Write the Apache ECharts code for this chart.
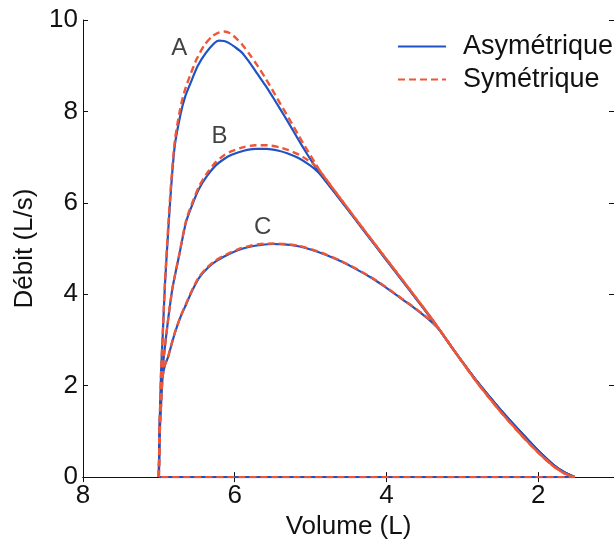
<!DOCTYPE html>
<html>
<head>
<meta charset="utf-8">
<script src="https://cdn.jsdelivr.net/npm/echarts@6/dist/echarts.min.js"></script>
<style>
html,body{margin:0;padding:0;background:#fff;}
#chart{width:614px;height:545px;}
</style>
</head>
<body>
<div id="chart"></div>
<script>
// ---- Data (volume in L, flow in L/s) ----
const volA_asym = [7.00, 6.99, 6.97, 6.95, 6.92, 6.88, 6.84, 6.79, 6.71, 6.65, 6.58, 6.49, 6.38, 6.27, 6.21, 6.14, 6.08, 5.99, 5.90, 5.80, 5.70, 5.60, 5.50, 5.40, 5.29, 5.16, 5.05, 4.95, 4.86, 4.60, 4.30, 4.00, 3.70, 3.40, 3.10, 2.80, 2.50, 2.20, 2.00, 1.80, 1.65, 1.52, 7.00];
const flowA_asym = [0, 1.10, 2.34, 3.06, 4.20, 5.30, 6.30, 7.25, 7.97, 8.34, 8.63, 8.99, 9.28, 9.49, 9.55, 9.54, 9.50, 9.40, 9.28, 9.06, 8.82, 8.58, 8.32, 8.05, 7.75, 7.38, 7.08, 6.82, 6.60, 6.05, 5.40, 4.75, 4.10, 3.45, 2.75, 2.08, 1.48, 0.93, 0.58, 0.27, 0.10, 0, 0];

const volA_sym = [7.00, 6.99, 6.97, 6.95, 6.92, 6.88, 6.84, 6.79, 6.72, 6.66, 6.59, 6.50, 6.40, 6.30, 6.22, 6.14, 6.06, 5.98, 5.90, 5.80, 5.70, 5.60, 5.50, 5.40, 5.29, 5.16, 5.05, 4.95, 4.86, 4.60, 4.30, 4.00, 3.70, 3.40, 3.10, 2.80, 2.50, 2.20, 2.00, 1.80, 1.65, 1.52, 7.00];
const flowA_sym = [0, 1.10, 2.34, 3.10, 4.25, 5.40, 6.40, 7.35, 8.05, 8.45, 8.78, 9.15, 9.45, 9.64, 9.72, 9.75, 9.71, 9.60, 9.46, 9.24, 9.00, 8.74, 8.46, 8.17, 7.86, 7.48, 7.17, 6.90, 6.66, 6.08, 5.42, 4.77, 4.12, 3.46, 2.75, 2.06, 1.44, 0.88, 0.54, 0.24, 0.08, 0, 0];

const volB = [7.00, 6.99, 6.97, 6.95, 6.93, 6.88, 6.82, 6.73, 6.64, 6.55, 6.47, 6.36, 6.25, 6.14, 6.04, 5.88, 5.73, 5.58, 5.42, 5.30, 5.16, 5.05, 4.95, 4.86, 4.60, 4.30, 4.00, 3.70, 3.40, 3.10, 2.80, 2.50, 2.20, 2.00, 1.80, 1.65, 1.52];
const flowB_asym = [0, 1.10, 1.90, 2.35, 2.70, 3.42, 4.14, 4.87, 5.59, 6.00, 6.31, 6.60, 6.82, 6.96, 7.05, 7.14, 7.18, 7.18, 7.14, 7.08, 6.98, 6.87, 6.75, 6.60, 6.05, 5.40, 4.75, 4.10, 3.45, 2.75, 2.08, 1.48, 0.93, 0.58, 0.27, 0.10, 0];
const flowB_sym = [0, 1.10, 1.90, 2.35, 2.70, 3.42, 4.14, 4.88, 5.62, 6.04, 6.36, 6.66, 6.89, 7.04, 7.13, 7.22, 7.26, 7.26, 7.22, 7.16, 7.06, 6.95, 6.83, 6.66, 6.08, 5.42, 4.77, 4.12, 3.46, 2.75, 2.06, 1.44, 0.88, 0.54, 0.24, 0.08, 0];

const volC = [7.00, 6.99, 6.97, 6.95, 6.92, 6.88, 6.83, 6.78, 6.71, 6.64, 6.56, 6.47, 6.36, 6.25, 6.10, 5.95, 5.80, 5.65, 5.50, 5.35, 5.16, 5.00, 4.81, 4.60, 4.40, 4.20, 4.00, 3.80, 3.60, 3.45, 3.30, 3.10, 2.80, 2.50, 2.20, 2.00, 1.80, 1.65, 1.52];
const flowC_asym = [0, 0.90, 1.60, 2.19, 2.45, 2.62, 2.92, 3.20, 3.52, 3.78, 4.08, 4.36, 4.57, 4.72, 4.86, 4.97, 5.04, 5.08, 5.10, 5.09, 5.05, 4.98, 4.87, 4.72, 4.55, 4.36, 4.14, 3.90, 3.66, 3.46, 3.22, 2.75, 2.08, 1.48, 0.93, 0.58, 0.27, 0.10, 0];
const flowC_sym = [0, 0.90, 1.60, 2.19, 2.45, 2.63, 2.93, 3.21, 3.53, 3.80, 4.10, 4.38, 4.59, 4.74, 4.88, 4.99, 5.06, 5.10, 5.11, 5.10, 5.06, 4.99, 4.88, 4.73, 4.56, 4.37, 4.15, 3.91, 3.67, 3.47, 3.22, 2.75, 2.06, 1.44, 0.88, 0.54, 0.24, 0.08, 0];

const curveLabels = ['A', 'B', 'C'];
const labelVol = [6.73, 6.20, 5.63];
const labelFlow = [9.39, 7.46, 5.47];

const xTicks = [2, 4, 6, 8];
const seriesNames = ['Asymétrique', 'Symétrique'];

// ---- Chart ----
const FONT = "'Liberation Sans', Arial, sans-serif";
const BLUE = '#1f52c4';
const RED = '#ee5736';
const zip = (xs, ys) => xs.map((x, i) => [x, ys[i]]);

function blueSeries(xs, ys) {
  return { name: seriesNames[0], type: 'line', data: zip(xs, ys), symbol: 'none', showSymbol: false, smooth: 0.25,
    lineStyle: { color: BLUE, width: 2.2, type: 'solid' }, itemStyle: { color: BLUE }, z: 2, animation: false };
}
function redSeries(xs, ys) {
  return { name: seriesNames[1], type: 'line', data: zip(xs, ys), symbol: 'none', showSymbol: false, smooth: 0.25,
    lineStyle: { color: RED, width: 2.4, type: [7, 4] }, itemStyle: { color: RED }, z: 3, animation: false };
}

const axisLineStyle = { lineStyle: { color: '#111', width: 1 } };
const chart = echarts.init(document.getElementById('chart'));
chart.setOption({
  backgroundColor: '#fff',
  animation: false,
  textStyle: { fontFamily: FONT },
  grid: { left: 83, top: 20, width: 537, height: 461, containLabel: false },
  legend: {
    data: seriesNames,
    orient: 'vertical',
    left: 397, top: 33, padding: 0,
    itemWidth: 48, itemHeight: 14, itemGap: 6,
    itemStyle: { opacity: 0 },
    textStyle: { fontFamily: FONT, fontSize: 27, color: '#111', padding: [0, 0, 0, 12], lineHeight: 27 }
  },
  xAxis: [
    { type: 'value', position: 'bottom', min: 1, max: 8, inverse: true,
      axisLine: axisLineStyle, splitLine: { show: false },
      axisTick: { inside: true, length: 5, customValues: xTicks, lineStyle: { color: '#111' } },
      axisLabel: { customValues: xTicks, fontSize: 26, color: '#111', margin: 6, fontFamily: FONT },
      name: 'Volume (L)', nameLocation: 'middle', nameGap: 32,
      nameTextStyle: { fontSize: 26, color: '#111', fontFamily: FONT } },
    { type: 'value', position: 'top', min: 1, max: 8, inverse: true,
      axisLine: axisLineStyle, splitLine: { show: false },
      axisTick: { inside: true, length: 5, customValues: xTicks, lineStyle: { color: '#111' } },
      axisLabel: { show: false } }
  ],
  yAxis: [
    { type: 'value', position: 'left', min: 0, max: 10, interval: 2,
      axisLine: { show: true, lineStyle: { color: '#111', width: 1 } }, splitLine: { show: false },
      axisTick: { show: true, inside: true, length: 5, lineStyle: { color: '#111' } },
      axisLabel: { fontSize: 26, color: '#111', margin: 5, fontFamily: FONT },
      name: 'Débit (L/s)', nameLocation: 'middle', nameGap: 37,
      nameTextStyle: { fontSize: 26, color: '#111', fontFamily: FONT } },
    { type: 'value', position: 'right', min: 0, max: 10, interval: 2,
      axisLine: { show: true, lineStyle: { color: '#111', width: 1 } }, splitLine: { show: false },
      axisTick: { show: true, inside: true, length: 5, lineStyle: { color: '#111' } },
      axisLabel: { show: false } }
  ],
  series: [
    blueSeries(volA_asym, flowA_asym),
    blueSeries(volB, flowB_asym),
    blueSeries(volC, flowC_asym),
    redSeries(volA_sym, flowA_sym),
    redSeries(volB, flowB_sym),
    redSeries(volC, flowC_sym),
    { name: 'labels', type: 'scatter', symbolSize: 0, z: 5, silent: true,
      data: curveLabels.map((n, i) => ({ name: n, value: [labelVol[i], labelFlow[i]] })),
      label: { show: true, position: 'inside', formatter: p => p.name, fontSize: 24, color: '#111', fontFamily: FONT } }
  ]
});
</script>
</body>
</html>
